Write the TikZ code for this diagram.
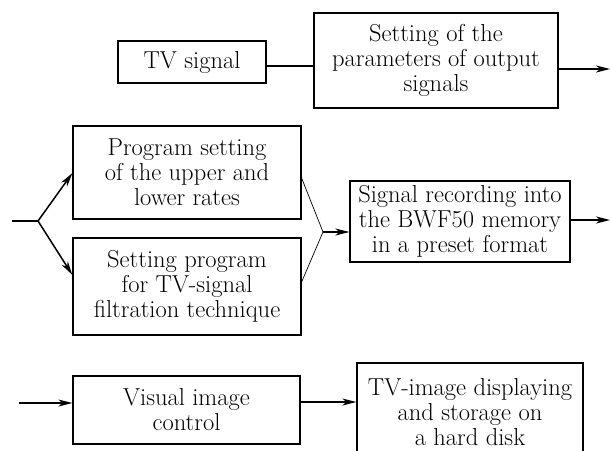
\documentclass[tikz,border=0pt]{standalone}
\usetikzlibrary{arrows.meta}
\begin{document}
\begin{tikzpicture}[x=1pt,y=-1pt,
  box/.style={draw, line width=1.2pt, align=center, inner sep=0pt, font=\fontsize{24.5}{25}\selectfont},
  arr/.style={-{Stealth[length=14pt,width=7pt,inset=4pt]}, line width=1.5pt},
  plain/.style={line width=1.4pt},
  thin/.style={line width=0.7pt}]
\useasboundingbox (0,0) rectangle (610,450);
\clip (0,0) rectangle (610,450);
\node[box, minimum width=148pt, minimum height=42pt] (tv) at (192,62) {TV signal};
\node[box, minimum width=244pt, minimum height=95pt] (par) at (436,60.5) {Setting of the\\parameters of output\\signals};
\node[box, minimum width=228pt, minimum height=93pt] (prog) at (187,172.5) {Program setting\\of the upper and\\lower rates};
\node[box, minimum width=228pt, minimum height=97pt] (filt) at (187,286.5) {Setting program\\for TV-signal\\filtration technique};
\node[box, minimum width=220pt, minimum height=81pt] (rec) at (460,221.5) {Signal recording into\\the BWF50 memory\\in a preset format};
\node[box, minimum width=227pt, minimum height=68pt] (vis) at (186.5,410) {Visual image\\control};
\node[box, minimum width=226pt, minimum height=98pt] (disp) at (470,412) {TV-image displaying\\and storage on\\a hard disk};
\coordinate (o1) at (610,69);
\coordinate (in1) at (12,221);
\coordinate (fork) at (38,221);
\coordinate (join) at (323,232);
\coordinate (o2) at (610,220);
\coordinate (in3) at (19,403);
\draw[plain] ([yshift=-4pt]tv.east) -- ([yshift=-4pt]tv.east -| par.west);
\draw[arr] ([yshift=-8.5pt]par.east) -- (o1);
\draw[plain] (in1) -- (fork);
\draw[arr] (fork) -- ([yshift=-0.5pt]prog.west);
\draw[arr] (fork) -- ([yshift=11.5pt]filt.west);
\draw[thin] ([yshift=-5.5pt]prog.east) -- (join) -- ([yshift=4.5pt]filt.east);
\draw[arr] (join) -- (join -| rec.west);
\draw[arr] ([yshift=1.5pt]rec.east) -- (o2);
\draw[arr] (in3) -- (in3 -| vis.west);
\draw[arr] ([yshift=8pt]vis.east) -- ([yshift=8pt]vis.east -| disp.west);
\end{tikzpicture}
\end{document}
